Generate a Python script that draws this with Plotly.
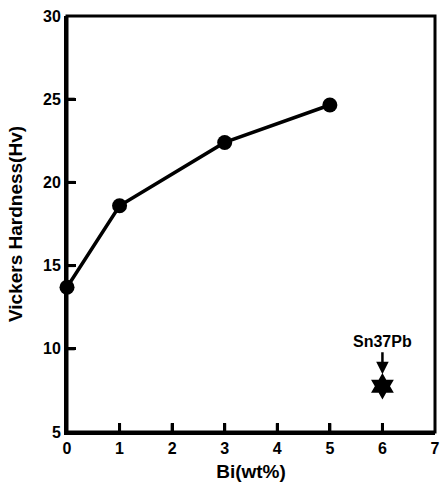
import plotly.graph_objects as go

bi = [0, 1, 3, 5]
hardness = [13.7, 18.6, 22.4, 24.65]
ref_x = [6]
ref_y = [7.75]
ref_label = "Sn37Pb"
x_ticks = [0, 1, 2, 3, 4, 5, 6, 7]
y_ticks = [5, 10, 15, 20, 25, 30]

FAM = "Liberation Sans, Arial, sans-serif"
X_RANGE = [0, 7]
Y_RANGE = [5, 30]
TICK_FRAC = 0.021  # tick length as a fraction of the axis span

fig = go.Figure()

# inward tick marks drawn as short line segments on the bottom and left axes
ty_len = (Y_RANGE[1] - Y_RANGE[0]) * TICK_FRAC
tx_len = (X_RANGE[1] - X_RANGE[0]) * TICK_FRAC
tick_x, tick_y = [], []
for v in x_ticks[1:-1]:
    tick_x += [v, v, None]
    tick_y += [Y_RANGE[0], Y_RANGE[0] + ty_len, None]
for v in y_ticks[1:-1]:
    tick_x += [X_RANGE[0], X_RANGE[0] + tx_len, None]
    tick_y += [v, v, None]
fig.add_trace(go.Scatter(x=tick_x, y=tick_y, mode="lines",
                         line=dict(color="black", width=3),
                         connectgaps=False, showlegend=False, hoverinfo="skip"))

fig.add_trace(go.Scatter(x=bi, y=hardness, mode="lines+markers",
                         line=dict(color="black", width=3.5),
                         marker=dict(color="black", size=15), showlegend=False,
                         cliponaxis=False))
fig.add_trace(go.Scatter(x=ref_x, y=ref_y, mode="markers",
                         marker=dict(color="black", size=20, symbol="hexagram"),
                         showlegend=False))
fig.add_annotation(x=ref_x[0], y=ref_y[0], text="<b>" + ref_label + "</b>",
                   showarrow=True, arrowhead=2, arrowsize=1, arrowwidth=2.5,
                   arrowcolor="black",
                   ax=0, ay=-34, standoff=12, yanchor="bottom",
                   font=dict(family=FAM, size=16, color="black"))

# frame (top and right borders without ticks)
fig.add_shape(type="rect", xref="paper", yref="paper", x0=0, y0=0, x1=1, y1=1,
              line=dict(color="black", width=3), layer="above")

tick_font = dict(family=FAM, size=16, color="black")
title_font = dict(family=FAM, size=19, color="black")
fig.update_layout(
    width=446, height=486,
    margin=dict(l=67, r=6, t=16, b=54),
    paper_bgcolor="white", plot_bgcolor="white",
    xaxis=dict(range=X_RANGE, tickvals=x_ticks,
               ticktext=[f"<b>{v}</b>" for v in x_ticks], tickfont=tick_font,
               ticks="inside", ticklen=9, tickwidth=3, tickcolor="black",
               showline=True, linewidth=3, linecolor="black",
               showgrid=False, zeroline=False,
               title=dict(text="<b>Bi(wt%)</b>", standoff=9, font=title_font)),
    yaxis=dict(range=Y_RANGE, tickvals=y_ticks,
               ticktext=[f"<b>{v}</b>" for v in y_ticks], tickfont=tick_font,
               ticks="inside", ticklen=9, tickwidth=3, tickcolor="black",
               showline=True, linewidth=3, linecolor="black",
               showgrid=False, zeroline=False,
               title=dict(text="<b>Vickers Hardness(Hv)</b>", standoff=16, font=title_font)),
)
fig.write_html("out.html")
